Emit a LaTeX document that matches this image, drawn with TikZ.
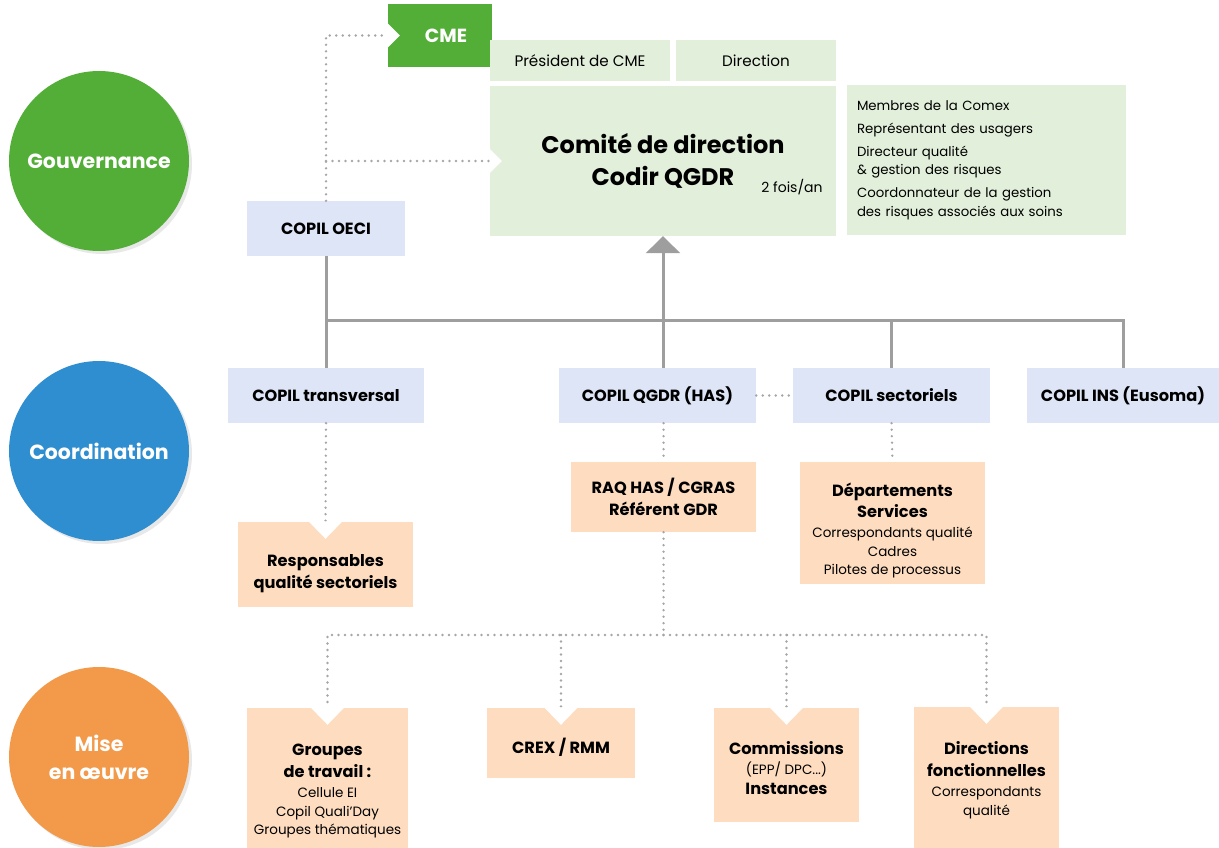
\documentclass[tikz,border=0pt]{standalone}
\usepackage{fontspec}
\setmainfont{Poppins}
\usetikzlibrary{shapes,arrows.meta,shadows}

\definecolor{govgreen}{HTML}{52AE36}
\definecolor{coordblue}{HTML}{2F8ECF}
\definecolor{miseorange}{HTML}{F29A4A}
\definecolor{palegreen}{HTML}{E2EFDA}
\definecolor{copilblue}{HTML}{DDE5F6}
\definecolor{peach}{HTML}{FDDCBF}
\definecolor{linegray}{HTML}{9E9E9E}
\definecolor{dotgray}{HTML}{A6A6A6}

\newcommand\smalltext{\mdseries\fontsize{13.5}{18.5}\selectfont}

\begin{document}
\begin{tikzpicture}[x=1pt,y=-1pt,
    stage/.style ={circle, minimum size=180, text=white, align=center,
      font=\bfseries\fontsize{20.5}{28}\selectfont,
      drop shadow={shadow xshift=3pt, shadow yshift=-3pt, opacity=0.18}},
    block_copil/.style ={rectangle, fill=copilblue, minimum height=55,
      font=\bfseries\fontsize{16.2}{20}\selectfont},
    block_peach/.style ={rectangle, fill=peach, align=center,
      font=\bfseries\fontsize{16.2}{18.5}\selectfont},
    block_pale/.style ={rectangle, fill=palegreen},
    line/.style ={draw=linegray, line width=3pt},
    dots/.style ={draw=dotgray, line width=2.6pt, line cap=round,
      dash pattern=on 0pt off 6.5pt}]
    \useasboundingbox (0,0) rectangle (1219,848);

    % stages on the left
    \node[stage, fill=govgreen] (gouv) at (99,161) {Gouvernance};
    \node[stage, fill=coordblue] (coord) at (99,451) {Coordination};
    \node[stage, fill=miseorange] (mise) at (99,757) {Mise\\en œuvre};

    % gouvernance - row 1
    \node[rectangle, fill=govgreen, minimum width=104, minimum height=63, text=white,
      font=\bfseries\fontsize{19}{22}\selectfont] (cme) at (440,35.5) {\hspace*{12pt}CME};
    \node[block_pale, minimum width=180, minimum height=41,
      font=\fontsize{15.2}{18}\selectfont] (pres) at (580,60.5) {Président de CME};
    \node[block_pale, minimum width=160, minimum height=41,
      font=\fontsize{15.2}{18}\selectfont] (dir) at (756,60.5) {Direction};
    \node[block_pale, minimum width=346, minimum height=150, align=center,
      font=\bfseries\fontsize{24}{32}\selectfont] (codir) at (663,161) {Comité de direction\\Codir QGDR};
    \node[font=\fontsize{14}{16}\selectfont] (freq) at (792,187) {2 fois/an};
    \node[block_pale, minimum width=279, minimum height=150, text width=259, align=left,
      font=\fontsize{13.3}{18.5}\selectfont] (members) at (986.5,160)
      {Membres de la Comex\\[4.5pt] Représentant des usagers\\[4.5pt] Directeur qualité\\
       \& gestion des risques\\[4.5pt] Coordonnateur de la gestion\\ des risques associés aux soins};
    \node[block_copil, minimum width=158] (oeci) at (326,228.5) {COPIL OECI};

    % coordination - row 2
    \node[block_copil, minimum width=196] (copil_trans) at (326,395.5) {COPIL transversal};
    \node[block_copil, minimum width=197] (copil_qgdr) at (657.5,395.5) {COPIL QGDR (HAS)};
    \node[block_copil, minimum width=197] (copil_sect) at (891.5,395.5) {COPIL sectoriels};
    \node[block_copil, minimum width=192] (copil_ins) at (1123,395.5) {COPIL INS (Eusoma)};

    \node[block_peach, minimum width=175, minimum height=85] (resp) at (325.5,564.5)
      {\rule{0pt}{30pt}Responsables\\[3.5pt]qualité sectoriels};
    \node[block_peach, minimum width=185, minimum height=70] (raq) at (663.5,497)
      {RAQ HAS / CGRAS\\[3.5pt]Référent GDR};
    \node[block_peach, minimum width=185, minimum height=122] (depts) at (892.5,523)
      {\rule{0pt}{29pt}Départements\\[2.5pt]Services\\[1.5pt]{\smalltext Correspondants qualité}\\{\smalltext Cadres}\\
       {\smalltext Pilotes de processus}};

    % mise en oeuvre - row 3
    \node[block_peach, minimum width=161, minimum height=140] (groupes) at (327.5,778)
      {\rule{0pt}{38pt}Groupes\\[3.5pt]de travail :\\[1.5pt]{\smalltext Cellule EI}\\{\smalltext Copil Quali'Day}\\
       {\smalltext Groupes thématiques}};
    \node[block_peach, minimum width=148, minimum height=70] (crex) at (561,743)
      {\rule{0pt}{24pt}CREX / RMM};
    \node[block_peach, minimum width=145, minimum height=114] (comm) at (786.5,765)
      {\rule{0pt}{20pt}Commissions\\[1.5pt]{\smalltext (EPP/ DPC...)}\\[1.5pt]Instances};
    \node[block_peach, minimum width=145, minimum height=141] (dirf) at (986.5,777.5)
      {\rule{0pt}{18pt}Directions\\[3.5pt]fonctionnelles\\[1.5pt]{\smalltext Correspondants}\\{\smalltext qualité}};

    % solid links
    \draw[line] (oeci.south) -- (copil_trans.north);
    \coordinate (bar) at (326,320);
    \draw[line] (bar) -| (copil_ins.north);
    \draw[line] (bar -| copil_sect.north) -- (copil_sect.north);
    \draw[line, -{Triangle[width=34pt,length=17pt]}] (codir.south |- copil_qgdr.north) -- (codir.south);

    % dotted links
    \draw[dots] (oeci.north) |- (cme.west);
    \draw[dots] (oeci.north |- codir.west) -- (codir.west);
    \draw[dots] (copil_qgdr.east) -- (copil_sect.west);
    \draw[dots] (copil_trans.south) -- (resp.north);
    \draw[dots] (raq.north |- copil_qgdr.south) -- (raq.north);
    \draw[dots] (copil_sect.south) -- (depts.north);
    \coordinate (hub) at (663.5,635);
    \draw[dots] (raq.south) -- (hub);
    \draw[dots] (hub) -| (groupes.north);
    \draw[dots] (hub) -| (dirf.north);
    \draw[dots] (hub -| crex.north) -- (crex.north);
    \draw[dots] (hub -| comm.north) -- (comm.north);

    % notches
    \foreach \n in {cme,codir}
      \fill[white] (\n.west) ++(0,-12) -- ++(12,12) -- ++(-12,12) -- cycle;
    \foreach \n in {resp,groupes,crex,comm,dirf}
      \fill[white] (\n.north) ++(-17,-0.5) -- ++(34,0) -- ++(-17,17.5) -- cycle;
\end{tikzpicture}
\end{document}
